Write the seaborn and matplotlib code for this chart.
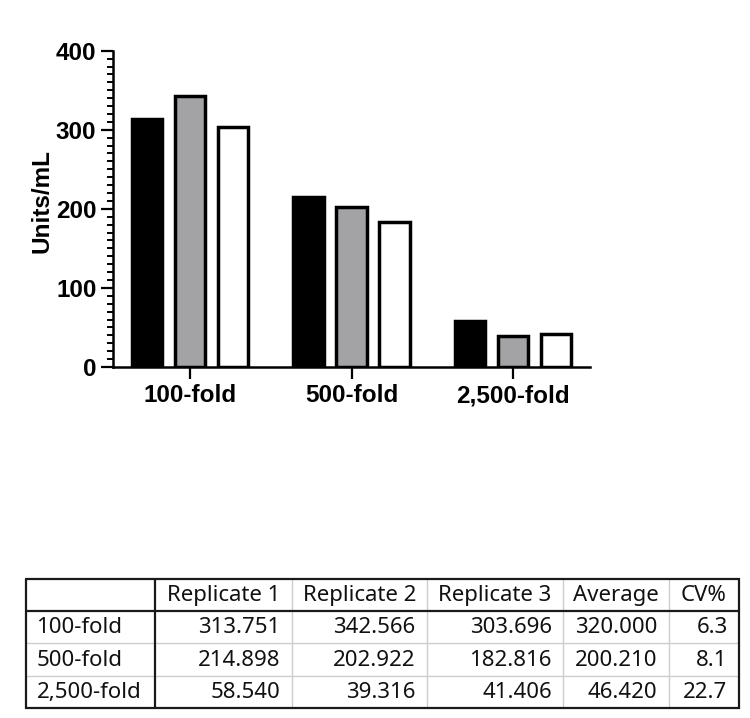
import numpy as np
import pandas as pd
import matplotlib
matplotlib.use("Agg")
import matplotlib.pyplot as plt
import seaborn as sns
from matplotlib.ticker import MultipleLocator

# ---- data ----
dilutions = ["100-fold", "500-fold", "2,500-fold"]
replicates = ["Replicate 1", "Replicate 2", "Replicate 3"]
rep1 = [313.751, 214.898, 58.540]
rep2 = [342.566, 202.922, 39.316]
rep3 = [303.696, 182.816, 41.406]
average = [320.000, 200.210, 46.420]
cv_pct = [6.3, 8.1, 22.7]
yticks = [0, 100, 200, 300, 400]

df = pd.DataFrame({
    "Dilution": dilutions * 3,
    "Replicate": [r for r in replicates for _ in dilutions],
    "Units/mL": rep1 + rep2 + rep3,
})

sns.set_theme(style="ticks")
plt.rcParams["font.family"] = ["Liberation Sans", "DejaVu Sans"]

W, H = 750, 718
fig = plt.figure(figsize=(W / 100, H / 100), dpi=100)
fig.patch.set_facecolor("white")

ax = fig.add_axes([112.7 / W, 1 - 367 / H, (590 - 112.7) / W, (367 - 50.7) / H])
sns.barplot(data=df, x="Dilution", y="Units/mL", hue="Replicate",
            order=dilutions, hue_order=replicates,
            palette=["#000000", "#a3a3a6", "#ffffff"],
            edgecolor="black", linewidth=2.5, width=0.8, gap=0.30,
            legend=False, ax=ax, saturation=1)

ax.set_xlim(-0.479, 2.477)
ax.set_ylim(0, 400)
ax.set_yticks(yticks)
ax.yaxis.set_minor_locator(MultipleLocator(10))
ax.set_facecolor("white")
for s in ["top", "right"]:
    ax.spines[s].set_visible(False)
for s in ["left", "bottom"]:
    ax.spines[s].set_linewidth(1.8)
    ax.spines[s].set_color("black")
ax.tick_params(axis="both", which="major", length=8.5, width=1.6, color="black",
               labelsize=17.5, labelcolor="black")
ax.tick_params(axis="y", which="major", pad=3.2)
ax.tick_params(axis="x", which="major", pad=4)
ax.tick_params(axis="y", which="minor", length=4.5, width=1.4, color="black")
for lab in ax.get_xticklabels() + ax.get_yticklabels():
    lab.set_fontweight("bold")
ax.set_xlabel("")
ax.set_ylabel("Units/mL", fontsize=17.5, fontweight="bold", color="black")
ax.yaxis.set_label_coords(-0.125, 0.525)
ax.grid(False)

# ---- table ----
tax = fig.add_axes([0, 0, 1, 1])
tax.set_xlim(0, W)
tax.set_ylim(H, 0)
tax.axis("off")
tax.patch.set_alpha(0)

col_edges = [26, 155, 291.7, 426.7, 563.3, 669, 739]
row_edges = [579, 610.7, 643.3, 675.5, 707.7]
header = [""] + replicates + ["Average", "CV%"]
rows = []
for i, d in enumerate(dilutions):
    rows.append([d, f"{rep1[i]:.3f}", f"{rep2[i]:.3f}", f"{rep3[i]:.3f}",
                 f"{average[i]:.3f}", f"{cv_pct[i]:.1f}"])

light = "#cdcdcd"
# inner light lines
for x in col_edges[2:-1]:
    tax.plot([x, x], [row_edges[0], row_edges[-1]], color=light, lw=1.0)
for y in row_edges[2:-1]:
    tax.plot([col_edges[0], col_edges[-1]], [y, y], color=light, lw=1.0)
# dark separators
tax.plot([col_edges[1], col_edges[1]], [row_edges[0], row_edges[-1]], color="#1a1a1a", lw=1.6)
tax.plot([col_edges[0], col_edges[-1]], [row_edges[1], row_edges[1]], color="#1a1a1a", lw=1.6)
# outer border
tax.plot([col_edges[0], col_edges[-1], col_edges[-1], col_edges[0], col_edges[0]],
         [row_edges[0], row_edges[0], row_edges[-1], row_edges[-1], row_edges[0]],
         color="#1a1a1a", lw=1.6, solid_joinstyle="miter")

tfont = dict(family=["Noto Sans", "DejaVu Sans"], fontsize=16, color="#111111")
for j, txt in enumerate(header):
    if txt:
        tax.text((col_edges[j] + col_edges[j + 1]) / 2, row_edges[0] + 22, txt,
                 ha="center", va="baseline", **tfont)
for i, row in enumerate(rows):
    base = row_edges[i + 1] + 22.5
    for j, txt in enumerate(row):
        if j == 0:
            tax.text(col_edges[0] + 10.5, base, txt, ha="left", va="baseline", **tfont)
        else:
            tax.text(col_edges[j + 1] - 11.5, base, txt, ha="right", va="baseline", **tfont)

fig.savefig("out.png", dpi=100, facecolor="white")
